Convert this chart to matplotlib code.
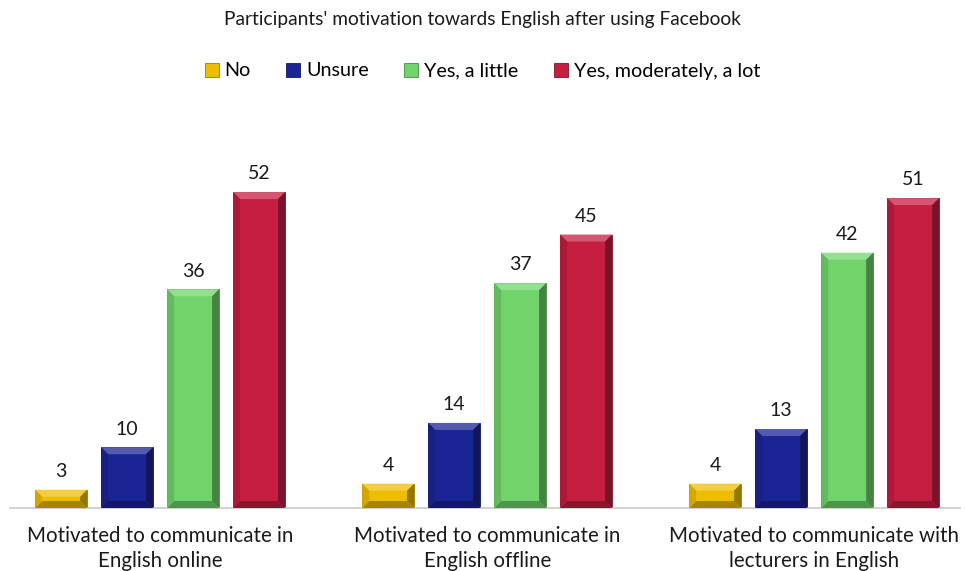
import matplotlib.pyplot as plt
import matplotlib.colors as mcolors
from matplotlib.patches import Polygon
import numpy as np

plt.rcParams['font.family'] = ['Lato', 'DejaVu Sans']

titulo = "Participants' motivation towards English after using Facebook"
categorias = ['Motivated to communicate in\nEnglish online',
              'Motivated to communicate in\nEnglish offline',
              'Motivated to communicate with\nlecturers in English']
series = ['No', 'Unsure', 'Yes, a little', 'Yes, moderately, a lot']
no = [3, 4, 4]
unsure = [10, 14, 13]
little = [36, 37, 42]
lot = [52, 45, 51]
valores = [no, unsure, little, lot]
cores = ['#EDBE00', '#1B2494', '#70D46B', '#C51E41']


def tom(cor, f):
    # f > 0 clareia, f < 0 escurece
    c = np.array(mcolors.to_rgb(cor))
    if f >= 0:
        return tuple(c + (1 - c) * f)
    return tuple(c * (1 + f))


fig = plt.figure(figsize=(9.65, 5.71), dpi=100)
ax = fig.add_axes([10/965, 63/571, 950/965, 364.6/571])

x = np.arange(len(categorias))
passo = 0.2018
largura = 0.159
ymax = 60
ax.set_xlim(-0.459, 2.446)
ax.set_ylim(0, ymax)

# tamanho do chanfro em unidades de dados (~7 px)
dx = 7 / 327
dy = 7 * ymax / 364.6

for i, (nome, vals, cor) in enumerate(zip(series, valores, cores)):
    pos = x + (i - 1.5) * passo
    barras = ax.bar(pos, vals, largura, color=cor, edgecolor=tom(cor, -0.35),
                    linewidth=0.6, label=nome, zorder=2)
    for b, v in zip(barras, vals):
        x0, x1 = b.get_x(), b.get_x() + b.get_width()
        h = b.get_height()
        faces = [
            ([(x0, h), (x1, h), (x1 - dx, h - dy), (x0 + dx, h - dy)], tom(cor, 0.25)),
            ([(x0, 0), (x1, 0), (x1 - dx, dy), (x0 + dx, dy)], tom(cor, -0.3)),
            ([(x0, 0), (x0, h), (x0 + dx, h - dy), (x0 + dx, dy)], tom(cor, -0.12)),
            ([(x1, 0), (x1, h), (x1 - dx, h - dy), (x1 - dx, dy)], tom(cor, -0.38)),
        ]
        for pts, c in faces:
            ax.add_patch(Polygon(pts, closed=True, facecolor=c, edgecolor='none', zorder=3))
        ax.text(b.get_x() + b.get_width() / 2, h + 1.6, str(v), ha='center', va='bottom',
                fontsize=14, color='#1a1a1a')

ax.set_xticks(x)
ax.set_xticklabels(categorias, fontsize=14.8, color='#1a1a1a', linespacing=1.3)
ax.tick_params(axis='x', length=0, pad=13)
ax.set_yticks([])
for lado in ['top', 'right', 'left']:
    ax.spines[lado].set_visible(False)
ax.spines['bottom'].set_color('#c8c8c8')
ax.spines['bottom'].set_linewidth(1.2)

fig.text(0.5, 1 - 20/571, titulo, ha='center', va='center', fontsize=13.8, color='#1a1a1a')
leg = fig.legend(loc='center', bbox_to_anchor=(0.5, 1 - 71/571), ncol=4, frameon=False,
                 fontsize=14.2, handlelength=0.7, handleheight=0.7, handletextpad=0.3,
                 columnspacing=1.8)

plt.savefig('out.png', dpi=100)
